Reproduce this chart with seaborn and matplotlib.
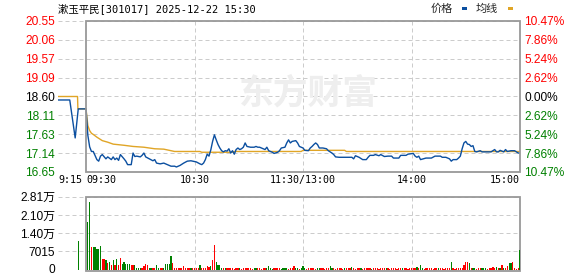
import numpy as np
import pandas as pd
import matplotlib
matplotlib.use("Agg")
import matplotlib.pyplot as plt
import matplotlib.transforms as mtransforms
from matplotlib.patches import Rectangle
import seaborn as sns

sns.set_theme(style="white")
plt.rcParams['font.family'] = ['Liberation Sans', 'Noto Sans CJK SC']

# ---------------- data ----------------
title = "漱玉平民[301017] 2025-12-22 15:30"
prev_close = 18.60
price_levels = [16.65, 17.14, 17.63, 18.11, 18.60, 19.09, 19.57, 20.06, 20.55]
pct_labels = ["10.47%", "7.86%", "5.24%", "2.62%", "0.00%", "2.62%", "5.24%", "7.86%", "10.47%"]
time_ticks = [-15.5, 0, 60, 120, 180, 240]
time_labels = ["9:15", "09:30", "10:30", "11:30/13:00", "14:00", "15:00"]
vol_ticks = [0, 7015, 14030, 21045, 28060]
vol_labels = ["0", "7015", "1.40万", "2.10万", "2.81万"]

# minutes from 09:30 (pre-market negative, lunch break collapsed)
price_t = [-15.5, -9, -6, -4.3, 0, 1, 2, 3, 4, 6, 7, 8, 9, 11, 12, 14, 15, 16, 17, 18,
           19, 21, 22, 23, 25, 26, 27, 28, 30, 31, 32, 33, 35, 37, 38, 39, 41, 43, 45, 47,
           49, 50, 52, 54, 56, 58, 59, 61, 63, 64, 65, 66, 67, 68, 69, 70, 71, 72, 73, 74,
           75, 76, 77, 78, 79, 80, 81, 82, 83, 84, 85, 86, 87, 88, 89, 91, 93, 94, 95, 96,
           98, 99, 100, 101, 103, 104, 106, 107, 108, 110, 111, 112, 113, 114, 116, 117, 118, 120, 121, 123,
           124, 125, 126, 127, 128, 129, 131, 133, 134, 136, 137, 138, 140, 144, 147, 148, 149, 151, 153, 155,
           156, 157, 159, 160, 162, 163, 165, 167, 169, 170, 173, 174, 177, 178, 181, 182, 183, 184, 185, 188,
           191, 193, 196, 197, 199, 201, 202, 203, 205, 206, 207, 208, 209, 210, 211, 212, 213, 214, 215, 216,
           218, 219, 221, 224, 226, 227, 228, 229, 231, 232, 233, 235, 237, 239, 240]
price_v = [18.51, 18.51, 17.53, 18.28, 18.28, 17.60, 17.30, 17.18, 17.18, 16.97, 16.93, 17.06, 17.10, 16.99, 17.04, 16.97, 17.04, 16.97, 17.01, 16.95,
           17.10, 16.99, 16.93, 16.84, 16.84, 17.14, 17.05, 17.06, 17.04, 17.08, 17.14, 17.04, 16.99, 16.94, 16.97, 16.88, 16.86, 16.88, 16.84, 16.80,
           16.80, 16.78, 16.82, 16.88, 16.93, 16.94, 16.93, 16.91, 16.86, 16.84, 16.88, 16.97, 17.11, 17.06, 17.22, 17.44, 17.61, 17.48, 17.36, 17.27,
           17.20, 17.17, 17.20, 17.19, 17.25, 17.14, 17.20, 17.11, 17.23, 17.27, 17.23, 17.25, 17.29, 17.40, 17.31, 17.29, 17.29, 17.31, 17.29, 17.29,
           17.25, 17.23, 17.29, 17.20, 17.16, 17.13, 17.16, 17.20, 17.27, 17.29, 17.40, 17.48, 17.40, 17.44, 17.46, 17.40, 17.31, 17.27, 17.21, 17.20,
           17.27, 17.31, 17.36, 17.40, 17.36, 17.27, 17.27, 17.25, 17.20, 17.14, 17.10, 17.04, 17.03, 17.03, 17.03, 16.99, 17.07, 17.03, 16.97, 16.97,
           17.03, 17.08, 17.08, 17.10, 17.07, 17.10, 17.05, 17.06, 17.06, 17.01, 17.01, 17.08, 17.08, 17.11, 17.13, 17.06, 17.03, 17.06, 16.97, 17.01,
           17.01, 17.06, 17.06, 17.03, 17.03, 16.99, 16.93, 16.97, 16.97, 17.01, 17.06, 17.25, 17.40, 17.44, 17.37, 17.36, 17.31, 17.33, 17.18, 17.17,
           17.20, 17.17, 17.17, 17.17, 17.23, 17.17, 17.17, 17.21, 17.17, 17.23, 17.18, 17.20, 17.20, 17.14, 17.14]

avg_t = [-15.5, -4.7, -4.5, 0, 1, 2, 3, 4, 6, 9, 12, 15, 21, 26, 32, 38, 43, 46, 49, 63,
         64, 81, 82, 119, 120, 143, 144, 240]
avg_v = [18.60, 18.60, 18.28, 18.28, 17.85, 17.72, 17.65, 17.62, 17.55, 17.46, 17.42, 17.37, 17.34, 17.31, 17.29, 17.25, 17.24, 17.21, 17.18, 17.18,
         17.16, 17.16, 17.18, 17.18, 17.21, 17.21, 17.18, 17.18]

vol_t = [-4] + list(range(1, 241))
vol_v = [10920,
         18160, 26160, 8640, 8640, 8640, 7750, 7750, 8890, 3940, 3940,
         3560, 2670, 3050, 1650, 3560, 1650, 3940, 1780, 4320, 2290,
         2920, 2290, 2030, 2030, 1780, 1780, 1650, 760, 510, 510,
         760, 1400, 2030, 1650, 760, 510, 510, 510, 1780, 510,
         510, 760, 760, 2030, 2290, 2290, 5210, 2540, 510, 510,
         510, 510, 510, 1270, 760, 510, 510, 510, 510, 510,
         510, 510, 1650, 510, 510, 510, 1270, 1020, 1400, 3560,
         9400, 2920, 1650, 1650, 760, 510, 510, 510, 510, 510,
         510, 380, 510, 640, 510, 380, 510, 510, 640, 510,
         510, 380, 510, 510, 640, 510, 380, 510, 510, 510,
         1270, 510, 380, 510, 510, 640, 510, 380, 510, 510,
         510, 380, 510, 510, 1270, 510, 510, 380, 510, 1270,
         510, 380, 510, 640, 510, 510, 380, 510, 510, 510,
         510, 380, 510, 510, 1270, 510, 510, 380, 510, 510,
         510, 380, 510, 640, 510, 510, 1020, 510, 380, 510,
         510, 510, 380, 510, 510, 640, 510, 380, 510, 510,
         510, 380, 510, 510, 640, 510, 510, 380, 510, 510,
         510, 380, 510, 510, 640, 510, 510, 380, 510, 510,
         510, 510, 1020, 510, 1780, 510, 380, 510, 510, 510,
         510, 380, 510, 510, 640, 510, 510, 380, 510, 510,
         510, 2920, 510, 380, 510, 510, 640, 510, 1650, 2790,
         2790, 2410, 510, 510, 510, 380, 510, 510, 510, 510,
         510, 380, 510, 510, 890, 510, 1020, 510, 510, 1650,
         510, 510, 1270, 2410, 2410, 2790, 510, 380, 510, 7370]
vol_dir = ("G"
           "GGRGGGGGRR" "GRGRGRGRRG" "GGGGRRGGGG" "RRRRGGRRGG" "RRGGGGGRRR"
           "RRRRRRRGRR" "RRGRRRRRGR" "RGGGGRGRRR" "RRRRGRRRRR" "RRGGRRRRRG"
           "GGGRRRRGGG" "GRRRRGGRGG" "GRRRRRRGGR" "RRRRGGRRRR" "RRGRRRGRRR"
           "RGRRRRRGRR" "RRRRRGRRRR" "RRRRGRRRRR" "RRGRGGRRRR" "RRRRGRRRRR"
           "RGRRRRRRRR" "RGRGGRRRGG" "GRRRRRGRGR" "GRRGGRRRRG")

# ---------------- styling ----------------
W, H = 578, 276
BLUE = '#0b4fa0'
ORANGE = '#e0a526'
RED = '#ff0000'
GREEN = '#008000'
GRID = '#cccccc'
FRAME = '#999999'
MONO = ['DejaVu Sans Mono', 'Noto Sans CJK SC']
NUMF = 8.6

fig = plt.figure(figsize=(W / 100, H / 100), dpi=100)
fig.patch.set_facecolor('white')

def px_rect(x0, y0, x1, y1):
    return [x0 / W, 1 - y1 / H, (x1 - x0) / W, (y1 - y0) / H]

ax = fig.add_axes(px_rect(58, 21, 520, 172))
axv = fig.add_axes(px_rect(58, 196.7, 520, 270.8))

for a in (ax, axv):
    a.set_facecolor('none')
    for s in a.spines.values():
        s.set_visible(False)
    a.set_xlim(-15.5, 240)
    for xv in (60, 120, 180):
        a.axvline(xv, color=GRID, lw=0.72, ls=(0, (4, 3)), zorder=1)

# watermark
fig.text(308 / W, 1 - 93 / H, "东方财富", fontsize=25, color='#eeeeee',
         fontweight='bold', ha='center', va='center', zorder=0,
         family=['Noto Sans CJK SC'])

# ---------- price panel ----------
ymin, ymax = price_levels[0], price_levels[-1]
ax.set_ylim(ymin, ymax)
for lv in price_levels:
    ax.axhline(lv, color=GRID, lw=0.72, ls=(0, (4, 3)), zorder=1)
ax.add_patch(Rectangle((0, ymin), 240, ymax - ymin, fill=False, edgecolor=FRAME,
                       lw=1.3, zorder=6, clip_on=False))

sns.lineplot(x=avg_t, y=avg_v, ax=ax, color=ORANGE, lw=1.0, estimator=None, sort=False, zorder=3)
sns.lineplot(x=price_t, y=price_v, ax=ax, color=BLUE, lw=1.0, estimator=None, sort=False, zorder=4)
ax.set_xlim(-15.5, 240)
ax.set_ylim(ymin, ymax)

def lvl_color(lv):
    if abs(lv - prev_close) < 1e-6:
        return 'black'
    return RED if lv > prev_close else GREEN

ax.set_yticks(price_levels)
ax.set_yticklabels([f"{lv:.2f}" for lv in price_levels])
ax.tick_params(axis='y', length=0, pad=2, labelsize=NUMF)
for lab, lv in zip(ax.get_yticklabels(), price_levels):
    lab.set_color(lvl_color(lv))

ax2 = ax.twinx()
for s in ax2.spines.values():
    s.set_visible(False)
ax2.set_ylim(ymin, ymax)
ax2.set_yticks(price_levels)
ax2.set_yticklabels(pct_labels)
ax2.tick_params(axis='y', length=0, pad=3, labelsize=NUMF)
for lab, lv in zip(ax2.get_yticklabels(), price_levels):
    lab.set_color(lvl_color(lv))

ax.set_xticks(time_ticks)
ax.set_xticklabels(time_labels)
ax.tick_params(axis='x', length=0, pad=2.5)
xl = ax.get_xticklabels()
for i, lab in enumerate(xl):
    lab.set_family(MONO)
    lab.set_fontsize(7.2)
    lab.set_color('black')
    if i in (0, 1):
        lab.set_ha('left')
    elif i == len(xl) - 1:
        lab.set_ha('right')
ax.set_xlabel("")
ax.set_ylabel("")
ax2.set_ylabel("")

# ---------- volume panel ----------
vbase = -500  # frame line sits just below the zero level so small bars stay visible
bar_colors = [RED if d == 'R' else GREEN for d in vol_dir]
axv.bar(vol_t, vol_v, width=0.7, color=bar_colors, linewidth=0,
        antialiased=False, zorder=7)
axv.set_xlim(-15.5, 240)
axv.set_ylim(vbase, vol_ticks[-1])
for v in vol_ticks[1:]:
    axv.axhline(v, color=GRID, lw=0.72, ls=(0, (4, 3)), zorder=1)
axv.axhline(vbase, color=GRID, lw=0.72, ls=(0, (4, 3)), zorder=1)
axv.add_patch(Rectangle((0, vbase), 240, vol_ticks[-1] - vbase, fill=False, edgecolor=FRAME,
                        lw=1.3, zorder=6, clip_on=False))
axv.set_yticks(vol_ticks)
axv.set_yticklabels(vol_labels)
axv.tick_params(axis='y', length=0, pad=2, labelsize=NUMF, labelcolor='black')
zero_lab = axv.get_yticklabels()[0]
zero_lab.set_transform(zero_lab.get_transform() +
                       mtransforms.ScaledTranslation(0, 1.5 / 100, fig.dpi_scale_trans))
axv.set_xticks([])
axv.set_xlabel("")
axv.set_ylabel("")

# ---------- title & legend ----------
fig.text(58 / W, 1 - 8.5 / H, title, family=MONO, fontsize=7.5, va='center', ha='left', color='black')
fig.text(431 / W, 1 - 9 / H, "价格", family=['Noto Sans CJK SC'], fontsize=8, va='center', ha='left')
fig.text(476 / W, 1 - 9 / H, "均线", family=['Noto Sans CJK SC'], fontsize=8, va='center', ha='left')
fig.add_artist(Rectangle((462 / W, 1 - 9.5 / H), 5 / W, 2.5 / H, transform=fig.transFigure,
                         facecolor=BLUE, edgecolor='none'))
fig.add_artist(Rectangle((507.5 / W, 1 - 9.5 / H), 5 / W, 2.5 / H, transform=fig.transFigure,
                         facecolor=ORANGE, edgecolor='none'))

fig.savefig("out.png", dpi=100, facecolor='white')
